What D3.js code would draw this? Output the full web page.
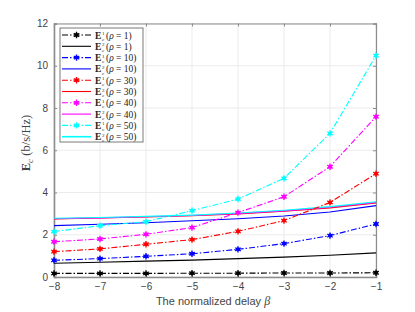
<!DOCTYPE html>
<html lang="en">
<head>
<meta charset="UTF-8">
<script src="https://d3js.org/d3.v7.min.js"></script>
<style>
  body { margin: 0; background: #fff; }
  svg { display: block; }
</style>
</head>
<body>
<div id="chart"></div>
<script>
// data
var beta = [-8, -7, -6, -5, -4, -3, -2, -1];
var rhos = [1, 10, 30, 40, 50];
var colors = ["#000000", "#0000ff", "#ff0000", "#ff00ff", "#00ffff"];

// E1: dash-dot with markers
var e1_rho1  = [0.17, 0.17, 0.17, 0.18, 0.18, 0.19, 0.19, 0.20];
var e1_rho10 = [0.79, 0.87, 0.98, 1.10, 1.31, 1.58, 1.96, 2.51];
var e1_rho30 = [1.20, 1.33, 1.55, 1.77, 2.16, 2.67, 3.53, 4.89];
var e1_rho40 = [1.67, 1.80, 2.02, 2.34, 3.05, 3.80, 5.22, 7.59];
var e1_rho50 = [2.15, 2.43, 2.62, 3.14, 3.69, 4.67, 6.80, 10.48];

// E2: solid lines
var e2_rho1  = [0.65, 0.70, 0.75, 0.80, 0.87, 0.94, 1.03, 1.14];
var e2_rho10 = [2.43, 2.50, 2.57, 2.66, 2.76, 2.89, 3.08, 3.38];
var e2_rho30 = [2.75, 2.79, 2.84, 2.90, 2.99, 3.11, 3.27, 3.50];
var e2_rho40 = [2.76, 2.80, 2.85, 2.91, 3.01, 3.13, 3.30, 3.53];
var e2_rho50 = [2.78, 2.82, 2.87, 2.93, 3.03, 3.16, 3.33, 3.56];

var xTicks = [-8, -7, -6, -5, -4, -3, -2, -1];
var yTicks = [0, 2, 4, 6, 8, 10, 12];

var E1 = [e1_rho1, e1_rho10, e1_rho30, e1_rho40, e1_rho50];
var E2 = [e2_rho1, e2_rho10, e2_rho30, e2_rho40, e2_rho50];

var W = 415, H = 312;
var margin = {top: 23.5, left: 54, right: 39, bottom: 35};
var width = W - margin.left - margin.right,
    height = H - margin.top - margin.bottom;

var svg = d3.select("#chart").append("svg")
  .attr("width", W).attr("height", H);
var g = svg.append("g")
  .attr("transform", "translate(" + margin.left + "," + margin.top + ")");

var x = d3.scaleLinear().domain([-8, -1]).range([0, width]);
var y = d3.scaleLinear().domain([0, 12]).range([height, 0]);

// grid
g.selectAll(".gx").data(xTicks).enter().append("line")
  .attr("x1", d => x(d)).attr("x2", d => x(d))
  .attr("y1", 0).attr("y2", height)
  .style("stroke", "#ebebeb").style("stroke-width", 1);
g.selectAll(".gy").data(yTicks).enter().append("line")
  .attr("y1", d => y(d)).attr("y2", d => y(d))
  .attr("x1", 0).attr("x2", width)
  .style("stroke", "#ebebeb").style("stroke-width", 1);

// axes
var axisColor = "#8c8c8c";
var xa = g.append("g").attr("transform", "translate(0," + height + ")")
  .call(d3.axisBottom(x).tickValues(xTicks).tickSize(-3).tickPadding(6).tickFormat(d3.format("d")));
var xt = g.append("g")
  .call(d3.axisTop(x).tickValues(xTicks).tickSize(-3).tickFormat(""));
var ya = g.append("g")
  .call(d3.axisLeft(y).tickValues(yTicks).tickSize(-3).tickPadding(6));
var yr = g.append("g").attr("transform", "translate(" + width + ",0)")
  .call(d3.axisRight(y).tickValues(yTicks).tickSize(-3).tickFormat(""));
[xa, xt, ya, yr].forEach(function(a) {
  a.selectAll("path").style("stroke", axisColor).style("stroke-width", 1.2);
  a.selectAll("line").style("stroke", axisColor);
  a.selectAll("text").style("font-family", "'Liberation Sans', Arial, sans-serif")
    .style("font-size", "10px").style("fill", "#444");
});
xa.selectAll("path").style("stroke-width", 1.6);
ya.selectAll("path").style("stroke-width", 1.6);

var line = d3.line().x((d, i) => x(beta[i])).y(d => y(d));
var dashDot = "6,2,1.5,2";

function marker(sel, color) {
  sel.append("path")
    .attr("d", d3.symbol(d3.symbolAsterisk, 28)())
    .style("fill", "none").style("stroke", color).style("stroke-width", 1.3);
  sel.append("circle").attr("r", 2).style("fill", color);
}

// draw series (E2 solid then E1 dash-dot per rho)
rhos.forEach(function(r, k) {
  g.append("path").datum(E2[k]).attr("d", line)
    .style("fill", "none").style("stroke", colors[k]).style("stroke-width", 1.1);
});
rhos.forEach(function(r, k) {
  g.append("path").datum(E1[k]).attr("d", line)
    .style("fill", "none").style("stroke", colors[k]).style("stroke-width", 1.1)
    .style("stroke-dasharray", dashDot);
  g.selectAll(null).data(E1[k]).enter().append("g")
    .attr("transform", (d, i) => "translate(" + x(beta[i]) + "," + y(d) + ")")
    .each(function() { marker(d3.select(this), colors[k]); });
});

// axis labels
svg.append("text")
  .attr("x", 213).attr("y", 305)
  .attr("text-anchor", "middle")
  .style("font-family", "'Liberation Sans', Arial, sans-serif")
  .style("font-size", "11px").style("fill", "#444")
  .text("The normalized delay  ")
  .append("tspan").style("font-family", "'Liberation Serif', serif")
  .style("font-style", "italic").style("font-size", "12px").text("β");

var yl = svg.append("text")
  .attr("transform", "translate(30,143) rotate(-90)")
  .attr("text-anchor", "middle")
  .style("font-family", "'Liberation Serif', serif")
  .style("font-size", "12.5px").style("fill", "#444");
yl.append("tspan").style("font-weight", "bold").text("E");
yl.append("tspan").attr("dy", 3).style("font-size", "9px").style("font-style", "italic").text("c");
yl.append("tspan").attr("dy", -3).text(" (b/s/Hz)");

// legend
var lg = svg.append("g").attr("transform", "translate(60,28)");
lg.append("rect").attr("width", 83).attr("height", 114)
  .style("fill", "#fff").style("stroke", "#7a7a7a").style("stroke-width", 1);

var entries = [];
rhos.forEach(function(r, k) {
  entries.push({rho: r, color: colors[k], kind: 1});
  entries.push({rho: r, color: colors[k], kind: 2});
});
var lf = "'Liberation Serif', serif";
entries.forEach(function(e, i) {
  var yy = 7 + i * 11.3;
  var row = lg.append("g").attr("transform", "translate(0," + yy + ")");
  var ln = row.append("line").attr("x1", 2).attr("x2", 31).attr("y1", 0).attr("y2", 0)
    .style("stroke", e.color).style("stroke-width", e.kind === 2 && e.color === "#00ffff" ? 1.6 : 1.1);
  if (e.kind === 1) {
    ln.style("stroke-dasharray", dashDot);
    var m = row.append("g").attr("transform", "translate(16.5,0)");
    marker(m, e.color);
  }
  row.append("text").attr("x", 35).attr("y", 3.5)
    .style("font-family", lf).style("font-size", "9.5px").style("font-weight", "bold")
    .style("fill", "#222").text("E");
  row.append("text").attr("x", 42).attr("y", 0)
    .style("font-family", lf).style("font-size", "5px")
    .style("fill", "#222").text(e.kind);
  row.append("text").attr("x", 42).attr("y", 5.7)
    .style("font-family", lf).style("font-size", "5px")
    .style("font-style", "italic").style("fill", "#222").text("c");
  var t = row.append("text").attr("x", 46).attr("y", 3.5)
    .style("font-family", lf).style("font-size", "9.5px")
    .style("fill", "#222");
  t.append("tspan").text("(");
  t.append("tspan").style("font-style", "italic").text("ρ");
  t.append("tspan").text(" = " + e.rho + ")");
});
</script>
</body>
</html>
